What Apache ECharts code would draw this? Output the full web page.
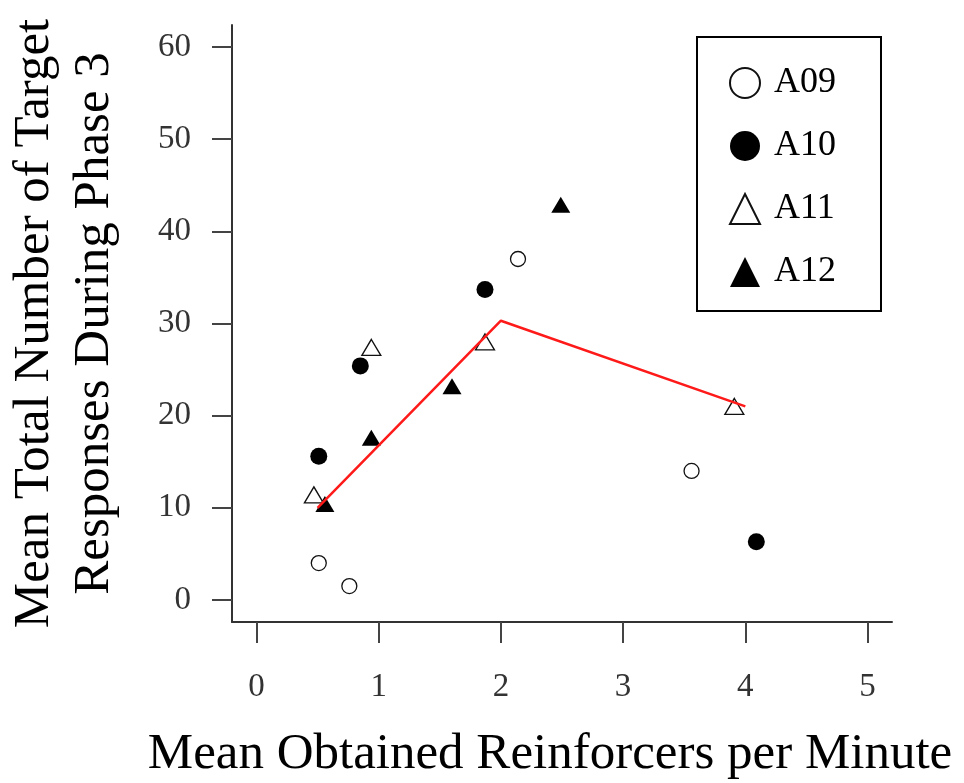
<!DOCTYPE html>
<html>
<head>
<meta charset="utf-8">
<script src="https://cdn.jsdelivr.net/npm/echarts@6/dist/echarts.min.js"></script>
<style>
html,body{margin:0;padding:0;background:#fff;}
#chart{width:964px;height:783px;}
</style>
</head>
<body>
<div id="chart"></div>
<script>
// Data
const seriesNames = ['A09', 'A10', 'A11', 'A12'];
const a09 = [[0.51, 4.0], [0.76, 1.5], [2.14, 37.0], [3.56, 14.0]];
const a10 = [[0.51, 15.6], [0.85, 25.4], [1.87, 33.7], [4.09, 6.3]];
const a11 = [[0.47, 11.4], [0.94, 27.4], [1.87, 28.0], [3.91, 21.0]];
const a12 = [[0.56, 10.4], [0.94, 17.6], [1.60, 23.2], [2.49, 42.9]];
const meanLine = [[0.5, 10.0], [2.0, 30.3], [4.0, 21.0]];
const xTicks = [0, 1, 2, 3, 4, 5];
const yTicks = [0, 10, 20, 30, 40, 50, 60];
const xTitle = 'Mean Obtained Reinforcers per Minute';
const yTitle = 'Mean Total Number of Target\nResponses During Phase 3';

const serif = 'Liberation Serif';
const chart = echarts.init(document.getElementById('chart'), null, {renderer: 'canvas'});

function scatter(name, data, symbol, filled, size) {
  return {
    name: name,
    type: 'scatter',
    data: data,
    symbol: symbol,
    symbolSize: size,
    z: 2,
    itemStyle: {
      color: filled ? '#000' : 'rgba(255,255,255,0)',
      borderColor: '#111',
      borderWidth: filled ? 0 : 1.3,
      opacity: 1
    }
  };
}

chart.setOption({
  animation: false,
  backgroundColor: '#fff',
  grid: {left: 232, right: 72, top: 25, bottom: 161, containLabel: false, outerBoundsMode: 'none'},
  xAxis: {
    type: 'value',
    min: -0.2,
    max: 5.2,
    name: xTitle,
    nameLocation: 'middle',
    nameGap: 107,
    nameTextStyle: {fontFamily: serif, fontSize: 51, color: '#000', padding: [0, 24, 0, 0]},
    axisLine: {show: true, onZero: false, lineStyle: {color: '#333', width: 2}},
    axisTick: {show: true, customValues: xTicks, length: 21, lineStyle: {color: '#444', width: 2}},
    axisLabel: {customValues: xTicks, fontFamily: serif, fontSize: 33, color: '#333', margin: 49},
    splitLine: {show: false}
  },
  yAxis: {
    type: 'value',
    min: -2.4,
    max: 62.4,
    name: yTitle,
    nameLocation: 'middle',
    nameRotate: 90,
    nameGap: 107,
    nameTextStyle: {fontFamily: serif, fontSize: 51, color: '#000', lineHeight: 60},
    axisLine: {show: true, onZero: false, lineStyle: {color: '#333', width: 2}},
    axisTick: {show: true, customValues: yTicks, length: 20, lineStyle: {color: '#444', width: 2}},
    axisLabel: {customValues: yTicks, fontFamily: serif, fontSize: 33, color: '#333', margin: 41},
    splitLine: {show: false}
  },
  legend: {
    data: seriesNames,
    orient: 'vertical',
    left: 697,
    top: 37,
    itemWidth: 30,
    itemHeight: 30,
    itemGap: 27,
    padding: [28, 45, 21, 32],
    borderColor: '#000',
    borderWidth: 2,
    textStyle: {fontFamily: serif, fontSize: 36, color: '#000', padding: [0, 0, 0, 9]}
  },
  series: [
    scatter('A09', a09, 'circle', false, 15),
    scatter('A10', a10, 'circle', true, 17),
    scatter('A11', a11, 'triangle', false, [19, 16]),
    scatter('A12', a12, 'triangle', true, [19, 16]),
    {
      name: 'mean',
      type: 'line',
      data: meanLine,
      showSymbol: false,
      symbol: 'none',
      z: 5,
      lineStyle: {color: '#ff1a1a', width: 2.5},
      itemStyle: {color: '#ff1a1a'}
    }
  ]
});
</script>
</body>
</html>
